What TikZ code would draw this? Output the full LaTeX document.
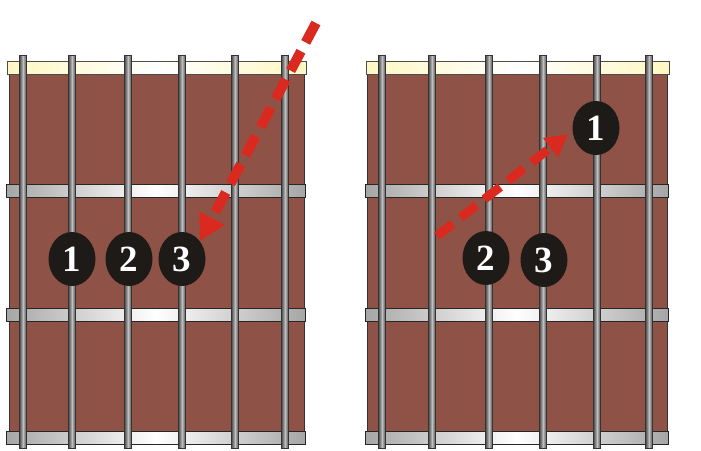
\documentclass[tikz,border=0pt]{standalone}
\usepackage{fontspec}
\setmainfont{Liberation Serif}
\usetikzlibrary{shapes.geometric,arrows.meta}
\definecolor{wood}{HTML}{8E5346}
\definecolor{nutc}{HTML}{FFF7C2}
\definecolor{arrowred}{HTML}{DA2A20}
\definecolor{dotc}{HTML}{1E1A18}
\tikzset{
  body/.style={fill=wood,draw=black!80,line width=0.8pt},
  nutbar/.style={left color=nutc,right color=nutc,middle color=white,draw=black!70,line width=0.8pt},
  fretbar/.style={left color=black!35,right color=black!35,middle color=white,draw=black!85,line width=0.8pt},
  stringbar/.style={left color=black!70,right color=black!70,middle color=black!25,draw=black!80,line width=0.5pt},
  finger/.style={ellipse,fill=dotc,text=white,minimum width=47pt,minimum height=54pt,inner sep=0pt,font=\fontsize{37}{37}\selectfont\bfseries},
  movearrow/.style={draw=arrowred,line width=10pt,dash pattern=on 22pt off 10pt,-{Triangle[width=27pt,length=26pt]}},
  movearrowsmall/.style={draw=arrowred,line width=9pt,dash pattern=on 20pt off 10pt,-{Triangle[width=23pt,length=22pt]}}
}
\begin{document}
\begin{tikzpicture}[x=1pt,y=-1pt]
\useasboundingbox (0,0) rectangle (701,450);
% ---- left fretboard ----
\draw[body] (9,74) rectangle (304,437);
\draw[nutbar] (7,61) rectangle (306,74);
\foreach \y in {184,308,431} \draw[fretbar] (6,\y) rectangle (305,\y+13);
\foreach \x in {23,72,128,182,235,285} \draw[stringbar] (\x-3.5,55) rectangle (\x+3.5,448);
% ---- right fretboard ----
\draw[body] (367,74) rectangle (667,437);
\draw[nutbar] (366,61) rectangle (669,74);
\foreach \y in {184,308,431} \draw[fretbar] (365,\y) rectangle (668,\y+13);
\foreach \x in {382,432,489,543,597,649} \draw[stringbar] (\x-3.5,55) rectangle (\x+3.5,448);
% ---- fingers ----
\node[finger] (l1) at (72,259) {1};
\node[finger] (l2) at (129,259) {2};
\node[finger] (l3) at (182,259) {3};
\node[finger] (r1) at (596,128) {1};
\node[finger] (r2) at (486,258) {2};
\node[finger] (r3) at (544,260) {3};
% ---- arrows ----
\coordinate (lstart) at (316,23);
\coordinate (rstart) at (437,236);
\draw[movearrow] (lstart) -- (l3.45);
\draw[movearrowsmall] (rstart) -- ([xshift=-5pt]r1.195);
\end{tikzpicture}
\end{document}
